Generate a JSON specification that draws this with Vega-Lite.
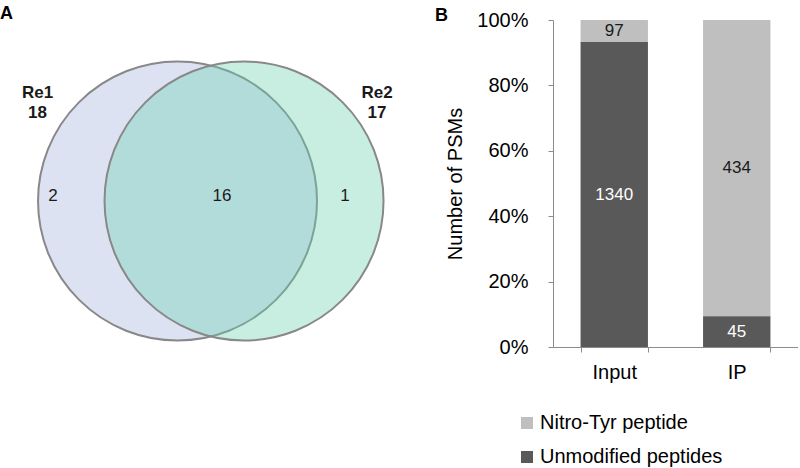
{
  "$schema": "https://vega.github.io/schema/vega-lite/v6.json",
  "padding": {"top": 5, "left": 0, "right": 0, "bottom": 0},
  "spacing": 35,
  "resolve": {"legend": {"color": "independent"}, "scale": {"color": "independent"}},
  "config": {"view": {"stroke": null}, "font": "Liberation Sans"},
  "hconcat": [
    {
      "width": 400,
      "height": 327,
      "title": {"text": "A", "anchor": "start", "frame": "group", "fontSize": 18, "fontWeight": "bold", "offset": -3, "color": "#000000"},
      "layer": [
        {
          "data": {"values": [
            {"set": "Re1", "total": 18, "cx": 0, "cy": 0, "lx": -1.0, "ly": 0.70},
            {"set": "Re2", "total": 17, "cx": 0.475, "cy": 0, "lx": 1.425, "ly": 0.70}
          ]},
          "encoding": {
            "x": {"field": "cx", "type": "quantitative", "scale": {"domain": [-1.268, 1.589], "nice": false, "zero": false}, "axis": null},
            "y": {"field": "cy", "type": "quantitative", "scale": {"domain": [-1.043, 1.293], "nice": false, "zero": false}, "axis": null}
          },
          "layer": [
            {
              "mark": {"type": "point", "shape": "circle", "filled": true, "size": 77840, "opacity": 1, "fillOpacity": 0.37, "stroke": "#888888", "strokeWidth": 2, "strokeOpacity": 1},
              "encoding": {
                "fill": {"field": "set", "type": "nominal", "scale": {"domain": ["Re1", "Re2"], "range": ["#a3b1dc", "#6ad1b1"]}, "legend": null}
              }
            },
            {
              "mark": {"type": "text", "fontSize": 17, "fontWeight": "bold", "color": "#1a1a1a", "dy": -10.5},
              "encoding": {
                "x": {"field": "lx", "type": "quantitative"},
                "y": {"field": "ly", "type": "quantitative"},
                "text": {"field": "set", "type": "nominal"}
              }
            },
            {
              "mark": {"type": "text", "fontSize": 17, "fontWeight": "bold", "color": "#1a1a1a", "dy": 10},
              "encoding": {
                "x": {"field": "lx", "type": "quantitative"},
                "y": {"field": "ly", "type": "quantitative"},
                "text": {"field": "total", "type": "nominal"}
              }
            }
          ]
        },
        {
          "data": {"values": [
            {"region": "Re1 only", "count": 2, "x": -0.889, "y": 0.036},
            {"region": "Re1 and Re2", "count": 16, "x": 0.318, "y": 0.036},
            {"region": "Re2 only", "count": 1, "x": 1.196, "y": 0.036}
          ]},
          "mark": {"type": "text", "fontSize": 17, "color": "#1a1a1a"},
          "encoding": {
            "x": {"field": "x", "type": "quantitative"},
            "y": {"field": "y", "type": "quantitative"},
            "text": {"field": "count", "type": "nominal"}
          }
        }
      ]
    },
    {
      "width": 245,
      "height": 327,
      "title": {"text": "B", "anchor": "start", "frame": "group", "fontSize": 18, "fontWeight": "bold", "offset": -14.5, "dx": -118, "color": "#000000"},
      "data": {"values": [
        {"sample": "Input", "type": "Nitro-Tyr peptide", "count": 97},
        {"sample": "Input", "type": "Unmodified peptides", "count": 1340},
        {"sample": "IP", "type": "Nitro-Tyr peptide", "count": 434},
        {"sample": "IP", "type": "Unmodified peptides", "count": 45}
      ]},
      "transform": [
        {"stack": "count", "groupby": ["sample"], "sort": [{"field": "type", "order": "descending"}], "offset": "normalize", "as": ["y0", "y1"]},
        {"calculate": "(datum.y0 + datum.y1) / 2", "as": "ymid"}
      ],
      "encoding": {
        "x": {
          "field": "sample", "type": "nominal", "sort": ["Input", "IP"],
          "scale": {"paddingInner": 0.45, "paddingOuter": 0.225},
          "axis": {"title": null, "labelAngle": 0, "labelFontSize": 20, "labelColor": "#000000", "tickBand": "extent", "tickSize": 5, "domainColor": "#8c8c8c", "tickColor": "#8c8c8c", "labelPadding": 10}
        }
      },
      "layer": [
        {
          "mark": {"type": "bar"},
          "encoding": {
            "y": {
              "field": "y0", "type": "quantitative",
              "scale": {"domain": [0, 1], "nice": false},
              "axis": {"format": ".0%", "values": [0, 0.2, 0.4, 0.6, 0.8, 1], "grid": false, "title": "Number of PSMs", "titleFontSize": 20, "titleFontWeight": "normal", "titlePadding": 11, "titleColor": "#000000", "labelFontSize": 20, "labelPadding": 20, "labelColor": "#000000", "tickSize": 5, "domainColor": "#8c8c8c", "tickColor": "#8c8c8c"}
            },
            "y2": {"field": "y1"},
            "color": {
              "field": "type", "type": "nominal",
              "scale": {"domain": ["Nitro-Tyr peptide", "Unmodified peptides"], "range": ["#bfbfbf", "#595959"]},
              "legend": {"title": null, "orient": "none", "legendX": -36, "legendY": 393, "direction": "vertical", "symbolType": "square", "symbolSize": 144, "symbolStrokeWidth": 0, "labelFontSize": 20, "labelLimit": 400, "labelColor": "#000000", "rowPadding": 14, "padding": 0, "labelOffset": 3}
            }
          }
        },
        {
          "mark": {"type": "text", "fontSize": 17},
          "encoding": {
            "y": {"field": "ymid", "type": "quantitative"},
            "text": {"field": "count", "type": "quantitative", "format": "d"},
            "color": {"condition": {"test": "datum.type === 'Unmodified peptides'", "value": "#ffffff"}, "value": "#1a1a1a"}
          }
        }
      ]
    }
  ]
}
